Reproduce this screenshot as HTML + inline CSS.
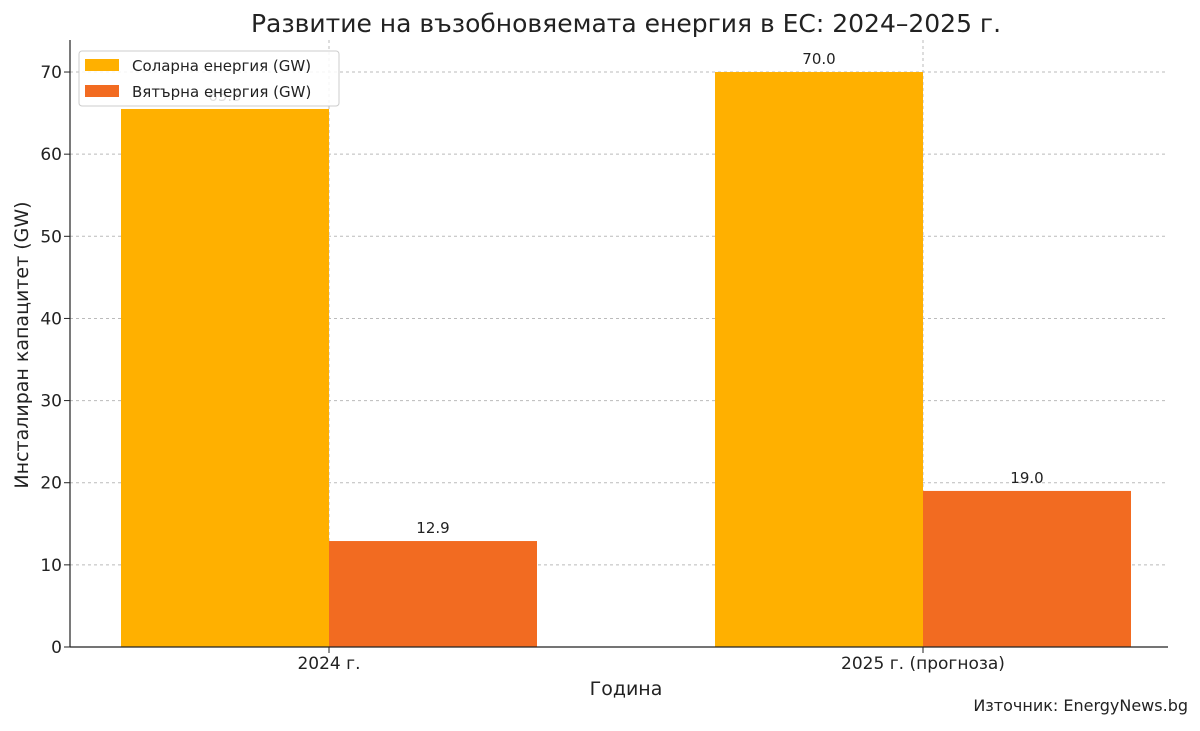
<!DOCTYPE html>
<html><head><meta charset="utf-8"><style>
body{margin:0;background:#fff;font-family:"Liberation Sans","DejaVu Sans",sans-serif;}
svg text{font-family:"DejaVu Sans","Liberation Sans",sans-serif;}
</style></head><body>
<svg id="c" width="1200" height="726" viewBox="0 0 1200 726">
<text x="626" y="32" font-size="25" text-anchor="middle" fill="#222">Развитие на възобновяемата енергия в ЕС: 2024–2025 г.</text>
<g id="grid"></g>
<g id="bars"></g>
<g id="axes"></g>
<text x="626" y="695" font-size="19" text-anchor="middle" fill="#222">Година</text>
<text transform="translate(28,345) rotate(-90)" font-size="19" text-anchor="middle" fill="#222">Инсталиран капацитет (GW)</text>
<text x="1188" y="711" font-size="16" text-anchor="end" fill="#222">Източник: EnergyNews.bg</text>
<g>
<rect x="79" y="51" width="260" height="55" rx="3" fill="#fff" fill-opacity="0.85" stroke="#ccc"/>
<rect x="85" y="59" width="34" height="12" fill="#FFB000"/>
<text x="132" y="71" font-size="15" fill="#222">Соларна енергия (GW)</text>
<rect x="85" y="85" width="34" height="12" fill="#F26B21"/>
<text x="132" y="97" font-size="15" fill="#222">Вятърна енергия (GW)</text>
</g>
</svg>
<script>
const categories=["2024 г.","2025 г. (прогноза)"];
const solar=[65.5,70.0];
const wind=[12.9,19.0];
const yTicks=[0,10,20,30,40,50,60,70];
const NS="http://www.w3.org/2000/svg";
const X0=70,X1=1168,Y0=647,ppu=8.214;
const y=v=>Y0-v*ppu;
const center=i=>329+i*594;
const BW=208;
function mk(t,a,p){const e=document.createElementNS(NS,t);for(const k in a)e.setAttribute(k,a[k]);p.appendChild(e);return e;}
const grid=document.getElementById('grid'),bars=document.getElementById('bars'),axes=document.getElementById('axes');
yTicks.forEach(t=>{
 const l=mk('line',{x1:X0,x2:X1,y1:y(t),y2:y(t),stroke:'#bbb','stroke-dasharray':'3,3','stroke-width':1},grid);
 
 
 const tk=mk('line',{x1:X0-6,x2:X0,y1:y(t),y2:y(t),stroke:'#222'},axes);
 
 
 const tx=mk('text',{x:X0-8,y:y(t)+6,'font-size':17,'text-anchor':'end',fill:'#222'},axes);
 tx.textContent=t;
 
 
});
categories.forEach((c,i)=>{
 const cx=center(i);
 const vl=mk('line',{x1:cx,x2:cx,y1:40,y2:Y0,stroke:'#bbb','stroke-dasharray':'3,3'},grid);
 
 
 [[solar[i],'#FFB000',cx-BW,'solar'],[wind[i],'#F26B21',cx,'wind']].forEach(([v,col,x,n])=>{
  const r=mk('rect',{x:x,y:y(v),width:BW,height:Y0-y(v),fill:col},bars);
  
  
  const t=mk('text',{x:x+BW/2,y:y(v)-8,'font-size':15,'text-anchor':'middle',fill:'#222'},bars);
  t.textContent=v.toFixed(1);
  
  
 });
 const tk=mk('line',{x1:cx,x2:cx,y1:Y0,y2:Y0+6,stroke:'#222'},axes);
 
 
 const tx=mk('text',{x:cx,y:Y0+22,'font-size':17,'text-anchor':'middle',fill:'#222'},axes);
 tx.textContent=c;
 
 
});
const ys=mk('line',{x1:X0,x2:X0,y1:40,y2:Y0,stroke:'#222','stroke-width':1.2},axes);


const xs=mk('line',{x1:X0,x2:X1,y1:Y0,y2:Y0,stroke:'#222','stroke-width':1.2},axes);


</script>
</body></html>
